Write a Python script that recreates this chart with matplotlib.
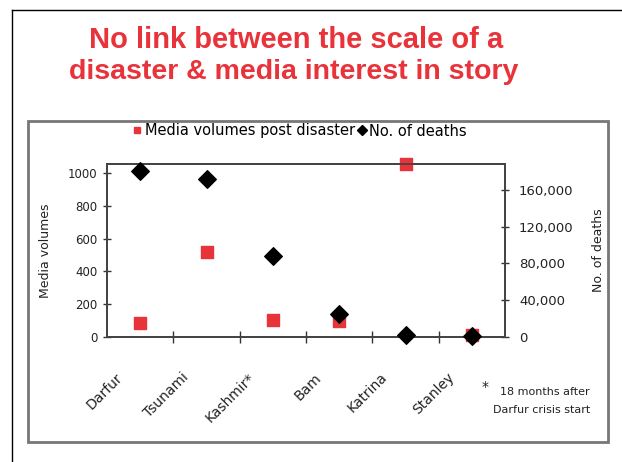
import matplotlib
matplotlib.use("Agg")
import matplotlib.pyplot as plt
import matplotlib.transforms as mtransforms
from matplotlib.lines import Line2D
from matplotlib.patches import Rectangle

categories = ["Darfur", "Tsunami", "Kashmir*", "Bam", "Katrina", "Stanley"]
media_volumes = [85, 520, 105, 95, 1055, 10]
deaths = [180000, 172000, 88000, 25000, 1800, 1600]
left_ticks = [0, 200, 400, 600, 800, 1000]
left_tick_labels = ["0", "200", "400", "600", "800", "1000"]
right_ticks = [0, 40000, 80000, 120000, 160000]
right_tick_labels = ["0", "40,000", "80,000", "120,000", "160,000"]

plt.rcParams['font.family'] = ['DejaVu Sans']

W, H = 622, 462
fig = plt.figure(figsize=(W / 100, H / 100), dpi=100)

def fx(x):
    return x / W

def fy(y):
    return 1 - y / H

TXT = "#222222"

# outer frame (left and top lines)
fig.add_artist(Line2D([fx(12), fx(12)], [fy(10), fy(462)], color="black", lw=1.0))
fig.add_artist(Line2D([fx(12), fx(622)], [fy(10), fy(10)], color="black", lw=1.0))
# inner box
fig.add_artist(Rectangle((fx(28), fy(442)), fx(608) - fx(28), fy(121) - fy(442),
                         fill=False, edgecolor="#777777", lw=2.0))

# title
fig.text(fx(296), fy(40), "No link between the scale of a", color="#e8333a",
         fontsize=21, fontweight="bold", ha="center", va="center",
         family="Liberation Sans")
fig.text(fx(294), fy(72), "disaster & media interest in story", color="#e8333a",
         fontsize=20.5, fontweight="bold", ha="center", va="center",
         family="Liberation Sans")

ax = fig.add_axes([fx(107), fy(337), fx(505) - fx(107), fy(164) - fy(337)])
ax2 = ax.twinx()

x = list(range(len(categories)))
ax.scatter(x, media_volumes, marker="s", s=70, color="#e8333a", zorder=3, clip_on=False)
ax2.scatter(x, deaths, marker="D", s=80, color="black", zorder=4, clip_on=False)

ax.set_xlim(-0.5, len(categories) - 0.5)
ax.set_ylim(0, 1055)
ax2.set_ylim(0, 188000)

ax.set_xticks([i + 0.5 for i in range(len(categories) - 1)])
ax.set_xticklabels([])
ax.set_xticks(x, minor=True)
ax.set_xticklabels(categories, minor=True, rotation=45, ha="right", va="top",
                   rotation_mode="anchor", fontsize=10, color=TXT)
ax.tick_params(axis="x", which="major", direction="inout", length=8, width=1, color="#333333")
ax.tick_params(axis="x", which="minor", length=0, pad=24)

ax.set_yticks(left_ticks)
ax.set_yticklabels(left_tick_labels, fontsize=8.5, color=TXT)
ax.tick_params(axis="y", direction="inout", length=6, width=1, color="#333333", pad=4)
ax2.set_yticks(right_ticks)
ax2.set_yticklabels(right_tick_labels, fontsize=9.5, color=TXT)
ax2.tick_params(axis="y", direction="inout", length=6, width=1, color="#333333", pad=7)

for a in (ax, ax2):
    for s in a.spines.values():
        s.set_color("#444444")
        s.set_linewidth(1.3)

ax.set_ylabel("Media volumes", fontsize=9, color=TXT, labelpad=11)
ax2.set_ylabel("No. of deaths", fontsize=9, color=TXT, labelpad=13)

offset = mtransforms.ScaledTranslation(-25 / 100, 0, fig.dpi_scale_trans)
for lbl in ax.get_xticklabels(minor=True):
    lbl.set_transform(lbl.get_transform() + offset)

# legend
handles = [Line2D([], [], marker="s", color="#e8333a", ls="none", markersize=5),
           Line2D([], [], marker="D", color="black", ls="none", markersize=5)]
fig.legend(handles, ["Media volumes post disaster", "No. of deaths"],
           loc="center", bbox_to_anchor=(fx(300), fy(131)), ncol=2, frameon=False,
           fontsize=10.5, handletextpad=0.2, columnspacing=0.2, handlelength=0.6)

# footnote
fig.text(fx(485), fy(387), "*", fontsize=10, ha="center", va="center", color=TXT)
fig.text(fx(590), fy(392), "18 months after", fontsize=8, ha="right", va="center", color=TXT)
fig.text(fx(590), fy(410), "Darfur crisis start", fontsize=8, ha="right", va="center", color=TXT)

fig.savefig("out.png", dpi=100, facecolor="white")
